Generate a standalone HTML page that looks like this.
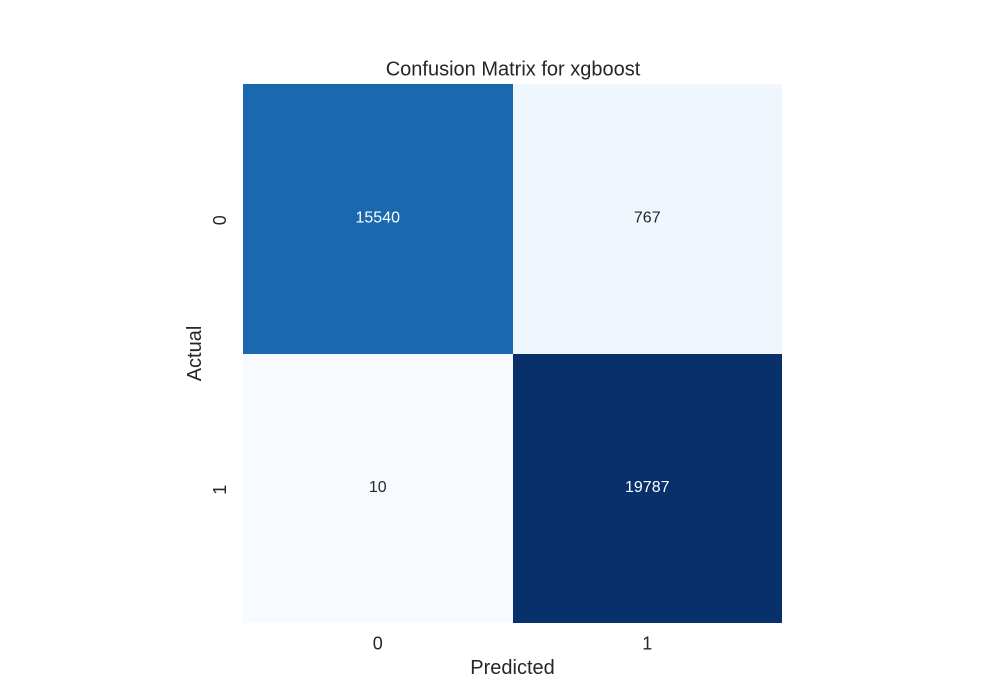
<!DOCTYPE html>
<html lang="en">
<head>
<meta charset="utf-8">
<title>Confusion Matrix for xgboost</title>
<style>
html,body{margin:0;padding:0;background:#fff;}
svg{display:block;font-family:"Liberation Sans",Arial,sans-serif;}
text{fill:#262626;}
</style>
</head>
<body>
<svg id="chart" xmlns="http://www.w3.org/2000/svg" width="1000" height="700" viewBox="0 0 1000 700">
<rect x="0" y="0" width="1000" height="700" fill="#ffffff"/>
<text x="513" y="69.5" font-size="20" text-anchor="middle" dominant-baseline="central">Confusion Matrix for xgboost</text>
<text x="512.5" y="668" font-size="20" text-anchor="middle" dominant-baseline="central">Predicted</text>
<text x="0" y="0" font-size="20" text-anchor="middle" dominant-baseline="central" transform="translate(195 353.5) rotate(-90)">Actual</text>
<g id="cells"></g>
<g id="annotations"></g>
<g id="x-ticks"></g>
<g id="y-ticks"></g>
</svg>
<script>
const actualLabels = ['0', '1'];
const predictedLabels = ['0', '1'];
const row0Values = [15540, 767];
const row1Values = [10, 19787];
const matrixRows = [row0Values, row1Values];

const NS = 'http://www.w3.org/2000/svg';
const plot = { left: 243, right: 782, top: 84, bottom: 623 };
const blues = [[247,251,255],[222,235,247],[198,219,239],[158,202,225],[107,174,214],[66,146,198],[33,113,181],[8,81,156],[8,48,107]];

const allValues = matrixRows.flat();
const minValue = Math.min(...allValues);
const maxValue = Math.max(...allValues);

function xEdge(i) { return plot.left + (plot.right - plot.left) * i / predictedLabels.length; }
function yEdge(i) { return plot.top + (plot.bottom - plot.top) * i / actualLabels.length; }
function norm(v) { return maxValue === minValue ? 0 : (v - minValue) / (maxValue - minValue); }
function rgbFor(v) {
  const p = Math.max(0, Math.min(1, norm(v))) * (blues.length - 1);
  const i = Math.min(Math.floor(p), blues.length - 2);
  const f = p - i;
  return blues[i].map((c, k) => Math.round(c + (blues[i + 1][k] - c) * f));
}
function labelColor(rgb) {
  const lum = (0.2126 * rgb[0] + 0.7152 * rgb[1] + 0.0722 * rgb[2]) / 255;
  return lum > 0.408 ? '#262626' : '#ffffff';
}
function makeText(parent, x, y, size, str) {
  const t = document.createElementNS(NS, 'text');
  t.setAttribute('x', x);
  t.setAttribute('y', y);
  t.setAttribute('font-size', size);
  t.setAttribute('text-anchor', 'middle');
  t.setAttribute('dominant-baseline', 'central');
  t.textContent = str;
  parent.appendChild(t);
  return t;
}

const cellsGroup = document.getElementById('cells');
const annotationsGroup = document.getElementById('annotations');
const xTicksGroup = document.getElementById('x-ticks');
const yTicksGroup = document.getElementById('y-ticks');

matrixRows.forEach((row, r) => {
  row.forEach((value, c) => {
    const rgb = rgbFor(value);
    const x0 = Math.round(xEdge(c));
    const x1 = Math.round(xEdge(c + 1));
    const y0 = Math.round(yEdge(r));
    const y1 = Math.round(yEdge(r + 1));
    const rect = document.createElementNS(NS, 'rect');
    
    
    rect.setAttribute('x', x0);
    rect.setAttribute('y', y0);
    rect.setAttribute('width', x1 - x0);
    rect.setAttribute('height', y1 - y0);
    rect.setAttribute('fill', 'rgb(' + rgb.join(',') + ')');
    rect.setAttribute('shape-rendering', 'crispEdges');
    cellsGroup.appendChild(rect);

    const label = makeText(annotationsGroup, (xEdge(c) + xEdge(c + 1)) / 2, (yEdge(r) + yEdge(r + 1)) / 2 - 0.7, 16, String(value));
    
    
    label.style.fill = labelColor(rgb);
  });
});

predictedLabels.forEach((name, c) => {
  const tick = makeText(xTicksGroup, (xEdge(c) + xEdge(c + 1)) / 2, 643.5, 18, name);
  
  
});

actualLabels.forEach((name, r) => {
  const cy = (yEdge(r) + yEdge(r + 1)) / 2 + 1.5;
  const tick = makeText(yTicksGroup, 0, 0, 18, name);
  tick.setAttribute('transform', 'translate(220 ' + cy + ') rotate(-90)');
  
  
});
</script>
</body>
</html>
